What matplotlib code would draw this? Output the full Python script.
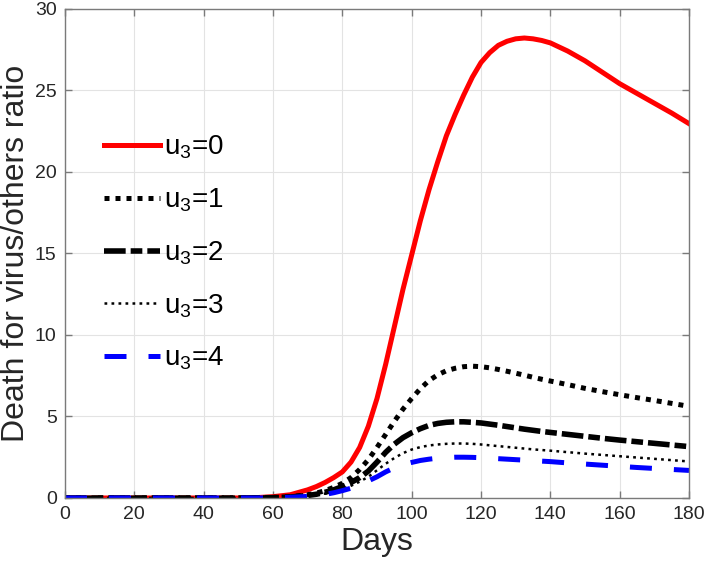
import matplotlib
matplotlib.use("Agg")
import matplotlib.pyplot as plt

days = [0, 10, 20, 30, 40, 50, 55, 60, 65,
        70, 72.5, 75, 77.5, 80, 82.5, 85, 87.5, 90, 92.5, 95, 97.5,
        100, 102.5, 105, 107.5, 110, 112.5, 115, 117.5, 120, 122.5,
        125, 127.5, 130, 132.5, 135, 137.5, 140,
        145, 150, 155, 160, 165, 170, 175, 180]

u0 = [0, 0, 0, 0, 0, 0, 0.02, 0.08, 0.2,
      0.5, 0.7, 0.95, 1.25, 1.6, 2.2, 3.1, 4.4, 6.1, 8.2, 10.5, 12.8,
      14.9, 17.0, 18.9, 20.6, 22.2, 23.5, 24.7, 25.8, 26.7, 27.3,
      27.75, 28.0, 28.15, 28.2, 28.15, 28.05, 27.9,
      27.4, 26.8, 26.1, 25.4, 24.8, 24.2, 23.6, 22.95]

u1 = [0, 0, 0, 0, 0, 0, 0.01, 0.03, 0.08,
      0.2, 0.3, 0.45, 0.65, 0.9, 1.25, 1.75, 2.35, 3.1, 3.9, 4.7, 5.45,
      6.1, 6.7, 7.2, 7.55, 7.8, 7.95, 8.05, 8.08, 8.05, 7.98,
      7.88, 7.77, 7.65, 7.53, 7.4, 7.28, 7.17,
      6.95, 6.72, 6.52, 6.33, 6.15, 5.98, 5.8, 5.62]

u2 = [0, 0, 0, 0, 0, 0, 0.01, 0.02, 0.06,
      0.15, 0.23, 0.35, 0.5, 0.7, 0.95, 1.25, 1.65, 2.2, 2.8, 3.3, 3.7,
      4.0, 4.25, 4.45, 4.57, 4.64, 4.67, 4.67, 4.64, 4.6, 4.53,
      4.46, 4.38, 4.3, 4.22, 4.15, 4.08, 4.02,
      3.9, 3.78, 3.66, 3.55, 3.45, 3.35, 3.25, 3.15]

u3 = [0, 0, 0, 0, 0, 0, 0.01, 0.02, 0.05,
      0.12, 0.18, 0.27, 0.4, 0.55, 0.75, 1.0, 1.3, 1.7, 2.1, 2.45, 2.75,
      2.97, 3.12, 3.22, 3.28, 3.32, 3.34, 3.34, 3.32, 3.28, 3.23,
      3.18, 3.13, 3.08, 3.03, 2.98, 2.94, 2.9,
      2.81, 2.72, 2.64, 2.56, 2.48, 2.4, 2.32, 2.24]

u4 = [0, 0, 0, 0, 0, 0, 0.0, 0.01, 0.04,
      0.1, 0.15, 0.22, 0.32, 0.45, 0.6, 0.8, 1.05, 1.3, 1.6, 1.85, 2.05,
      2.18, 2.3, 2.38, 2.44, 2.48, 2.5, 2.5, 2.49, 2.47, 2.44,
      2.41, 2.38, 2.35, 2.32, 2.29, 2.26, 2.23,
      2.15, 2.08, 2.01, 1.94, 1.87, 1.81, 1.75, 1.69]

labels = [r"$\mathregular{u_3}$=0", r"$\mathregular{u_3}$=1", r"$\mathregular{u_3}$=2",
          r"$\mathregular{u_3}$=3", r"$\mathregular{u_3}$=4"]

plt.rcParams['font.family'] = ['Liberation Sans', 'DejaVu Sans']

fig = plt.figure(figsize=(7.08, 5.69), dpi=100)
ax = fig.add_axes([0.0918, 0.1248, 0.8814, 0.860])

ax.plot(days, u0, color='red', lw=3.6, label=labels[0])
ax.plot(days, u1, color='black', lw=3.6, dashes=(1.0, 1.2), dash_capstyle='butt', label=labels[1])
ax.plot(days, u2, color='black', lw=4.0, dashes=(3.9, 0.9, 2.1, 0.9), dash_capstyle='butt', label=labels[2])
ax.plot(days, u3, color='black', lw=1.8, dashes=(1.1, 1.7), dash_capstyle='butt', label=labels[3])
ax.plot(days, u4, color='blue', lw=3.6, dashes=(4.4, 4.4), dash_capstyle='butt', label=labels[4])

ax.set_xlim(0, 180)
ax.set_ylim(0, 30)
ax.set_xticks(range(0, 181, 20))
ax.set_yticks(range(0, 31, 5))
ax.grid(True, color='#e3e3e3', lw=0.8)
ax.set_axisbelow(True)
for s in ax.spines.values():
    s.set_color('#7a7a7a')
    s.set_linewidth(1.0)
ax.tick_params(direction='in', length=5, width=1.0, color='#7a7a7a',
               top=True, right=True, labelsize=14, labelcolor='#262626', pad=6)

ax.set_xlabel('Days', fontsize=23, color='#262626', labelpad=3)
ax.set_ylabel('Death for virus/others ratio', fontsize=23, color='#262626', labelpad=3)

ax.legend(loc='upper left', bbox_to_anchor=(0.045, 0.767), frameon=False, fontsize=20,
          handlelength=2.0, handletextpad=0.15, labelspacing=0.91, borderaxespad=0)

fig.savefig('out.png', dpi=100)
